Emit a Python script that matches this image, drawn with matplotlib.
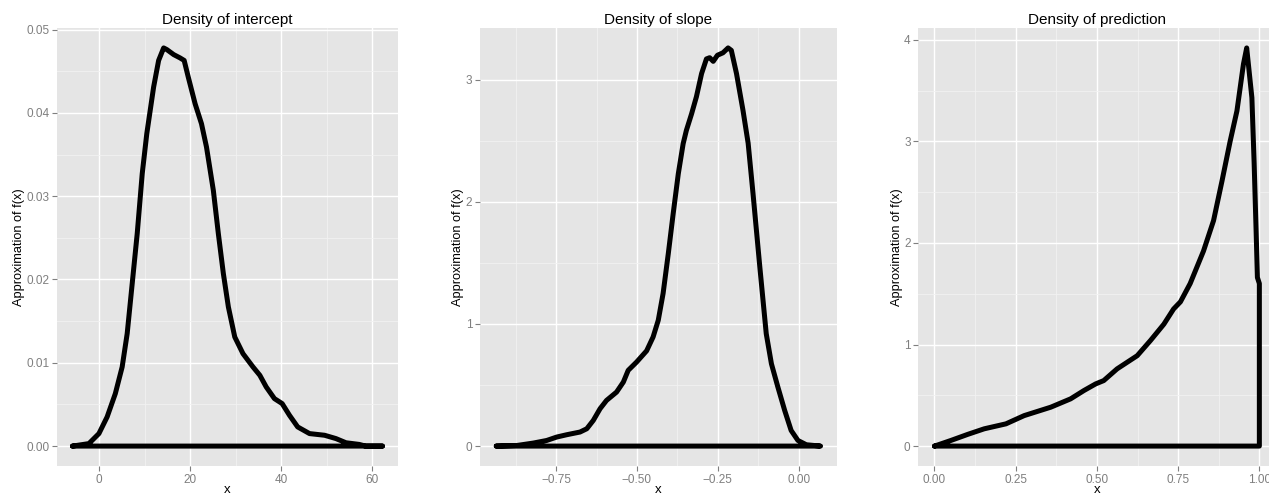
import numpy as np
import matplotlib.pyplot as plt
from matplotlib.ticker import MultipleLocator, FixedLocator

plt.rcParams['font.family'] = ['Liberation Sans', 'DejaVu Sans']

# --- valeurs ----------------------------------------------------------
intercept_x = [-5.8, -2.2, 0.0, 1.8, 3.6, 5.1, 6.2, 7.3, 8.4, 9.5, 10.5, 12.0, 13.1,
               14.2, 14.9, 16.4, 17.8, 18.7, 19.6, 21.1, 22.5, 23.6, 25.1, 26.2,
               27.3, 28.4, 29.8, 31.6, 33.8, 35.3, 36.7, 38.5, 40.2, 41.8, 43.6,
               46.2, 49.5, 52.0, 54.2, 57.1, 58.5, 62.2]
intercept_y = [0.0, 0.0003, 0.0015, 0.0035, 0.0063, 0.0095, 0.0135, 0.0195, 0.0255,
               0.0327, 0.0375, 0.0431, 0.0463, 0.0478, 0.0476, 0.0470, 0.0466,
               0.0463, 0.0443, 0.0411, 0.0387, 0.0359, 0.0307, 0.0255, 0.0207,
               0.0167, 0.0131, 0.0111, 0.0095, 0.0085, 0.0071, 0.0057, 0.0051,
               0.0037, 0.0023, 0.0015, 0.0013, 0.0009, 0.0004, 0.0002, 0.0, 0.0]

slope_x = [-0.935, -0.871, -0.82, -0.779, -0.748, -0.717, -0.676, -0.655, -0.635,
           -0.614, -0.594, -0.563, -0.542, -0.527, -0.501, -0.47, -0.45, -0.434,
           -0.419, -0.403, -0.388, -0.372, -0.357, -0.347, -0.331, -0.316, -0.300,
           -0.285, -0.275, -0.264, -0.251, -0.234, -0.218, -0.208, -0.192, -0.172,
           -0.156, -0.141, -0.12, -0.10, -0.084, -0.064, -0.043, -0.023, -0.002,
           0.024, 0.068]
slope_y = [0.0, 0.005, 0.025, 0.046, 0.074, 0.093, 0.115, 0.142, 0.21, 0.306, 0.374,
           0.442, 0.524, 0.62, 0.688, 0.78, 0.893, 1.03, 1.25, 1.575, 1.90, 2.23,
           2.476, 2.585, 2.72, 2.86, 3.05, 3.17, 3.18, 3.15, 3.20, 3.22, 3.26, 3.24,
           3.05, 2.75, 2.48, 2.07, 1.47, 0.92, 0.674, 0.483, 0.292, 0.128, 0.046,
           0.011, 0.0]

pred_x = [0.0, 0.051, 0.102, 0.153, 0.22, 0.276, 0.358, 0.419, 0.46, 0.496, 0.521,
          0.562, 0.624, 0.665, 0.706, 0.736, 0.757, 0.787, 0.828, 0.859, 0.885,
          0.910, 0.931, 0.951, 0.961, 0.977, 0.984, 0.990, 0.994, 1.0]
pred_y = [0.0, 0.056, 0.115, 0.17, 0.219, 0.30, 0.383, 0.465, 0.547, 0.612, 0.645,
          0.76, 0.89, 1.04, 1.20, 1.35, 1.42, 1.60, 1.92, 2.22, 2.61, 3.0, 3.3,
          3.76, 3.92, 3.43, 2.78, 2.12, 1.66, 1.6]

titres = ["Density of intercept", "Density of slope", "Density of prediction"]
x_major = [[0, 20, 40, 60], [-0.75, -0.50, -0.25, 0.00], [0.00, 0.25, 0.50, 0.75, 1.00]]
x_labels = [["0", "20", "40", "60"],
            ["\u22120.75", "\u22120.50", "\u22120.25", "0.00"],
            ["0.00", "0.25", "0.50", "0.75", "1.00"]]
y_major = [[0.00, 0.01, 0.02, 0.03, 0.04, 0.05], [0, 1, 2, 3], [0, 1, 2, 3, 4]]
y_labels = [["0.00", "0.01", "0.02", "0.03", "0.04", "0.05"],
            ["0", "1", "2", "3"], ["0", "1", "2", "3", "4"]]

series = [(intercept_x, intercept_y), (slope_x, slope_y), (pred_x, pred_y)]

# positions des panneaux (fraction de figure)
boites = [[0.0449, 0.0586, 0.2687, 0.8848],
          [0.3783, 0.0586, 0.2811, 0.8848],
          [0.7236, 0.0586, 0.2816, 0.8848]]

gris = '#7F7F7F'

fig = plt.figure(figsize=(12.69, 4.95), dpi=100)

for i in range(3):
    ax = fig.add_axes(boites[i])
    ax.set_facecolor('#E5E5E5')
    for s in ax.spines.values():
        s.set_visible(False)

    x = np.array(series[i][0])
    y = np.array(series[i][1])

    # contour fermé comme geom_density
    xp = np.concatenate([x, [x[-1], x[0]]])
    yp = np.concatenate([y, [0.0, 0.0]])
    ax.plot(xp, yp, color='black', lw=3.6, solid_joinstyle='round',
            solid_capstyle='round', zorder=3)

    # échelles avec expansion de 5 %
    dx = x.max() - x.min()
    ax.set_xlim(x.min() - 0.05 * dx, x.max() + 0.05 * dx)
    dy = y.max()
    ax.set_ylim(-0.05 * dy, dy * 1.05)

    xm = x_major[i]
    ym = y_major[i]
    ax.xaxis.set_major_locator(FixedLocator(xm))
    ax.set_xticklabels(x_labels[i])
    ax.yaxis.set_major_locator(FixedLocator(ym))
    ax.set_yticklabels(y_labels[i])
    ax.xaxis.set_minor_locator(MultipleLocator((xm[1] - xm[0]) / 2))
    ax.yaxis.set_minor_locator(MultipleLocator((ym[1] - ym[0]) / 2))

    ax.grid(which='major', color='white', lw=1.0, zorder=1)
    ax.grid(which='minor', color='#F2F2F2', lw=0.6, zorder=0)
    ax.set_axisbelow(True)

    ax.tick_params(which='major', direction='out', length=3.5, width=0.8,
                   color=gris, labelcolor=gris, labelsize=8.5, pad=2)
    ax.tick_params(which='minor', length=0)

    ax.set_title(titres[i], fontsize=11, pad=3)
    ax.set_xlabel('x', fontsize=9.5, labelpad=-1)
    ax.set_ylabel('Approximation of f(x)', fontsize=9.2, labelpad=1)

fig.savefig('out.png', dpi=100)
